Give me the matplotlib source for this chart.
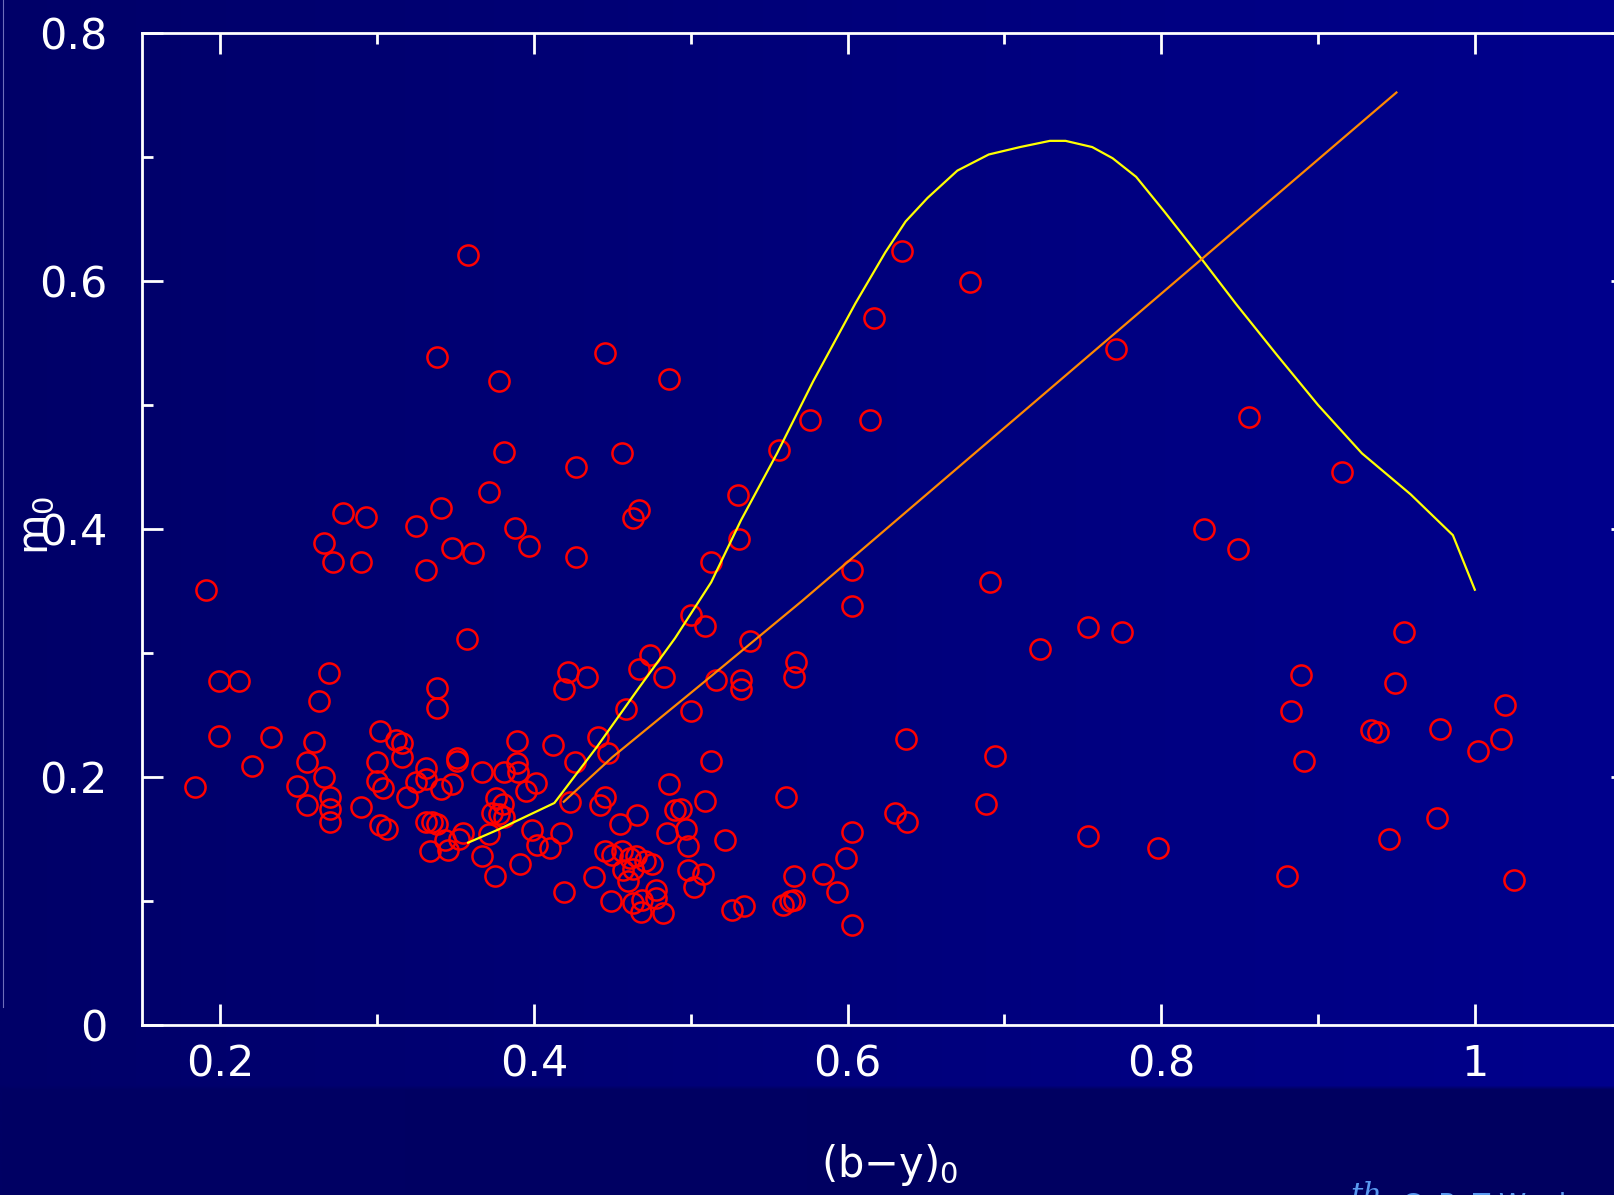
import numpy as np
import matplotlib
matplotlib.use('Agg')
import matplotlib.pyplot as plt
from matplotlib.ticker import MultipleLocator, FixedLocator

# Stars: (b-y)0 vs m0
by0 = [0.184, 0.191, 0.199, 0.199, 0.212, 0.220, 0.232, 0.249, 0.255, 0.255,
       0.260, 0.263, 0.266, 0.266, 0.269, 0.270, 0.270, 0.270, 0.272, 0.278,
       0.290, 0.290, 0.293, 0.300, 0.300, 0.302, 0.302, 0.304, 0.306, 0.312,
       0.316, 0.316, 0.319, 0.325, 0.325, 0.331, 0.331, 0.331, 0.331, 0.334,
       0.335, 0.338, 0.338, 0.338, 0.338, 0.341, 0.341, 0.343, 0.345, 0.348,
       0.348, 0.351, 0.351, 0.352, 0.355, 0.357, 0.358, 0.361, 0.367, 0.367,
       0.371, 0.371, 0.373, 0.375, 0.376, 0.378, 0.378, 0.380, 0.381, 0.381,
       0.381, 0.388, 0.389, 0.389, 0.390, 0.391, 0.397, 0.395, 0.399, 0.401,
       0.402, 0.410, 0.412, 0.417, 0.419, 0.419, 0.422, 0.423, 0.426, 0.427,
       0.427, 0.434, 0.438, 0.441, 0.442, 0.445, 0.445, 0.445, 0.447, 0.449,
       0.450, 0.456, 0.455, 0.456, 0.457, 0.459, 0.460, 0.461, 0.463, 0.463,
       0.463, 0.465, 0.466, 0.467, 0.467, 0.468, 0.469, 0.471, 0.474, 0.475,
       0.478, 0.478, 0.482, 0.483, 0.485, 0.486, 0.486, 0.490, 0.494, 0.497,
       0.498, 0.498, 0.500, 0.500, 0.502, 0.508, 0.509, 0.509, 0.513, 0.513,
       0.516, 0.522, 0.526, 0.530, 0.531, 0.532, 0.532, 0.534, 0.538, 0.556,
       0.559, 0.561, 0.563, 0.566, 0.566, 0.567, 0.566, 0.576, 0.584, 0.593,
       0.599, 0.603, 0.603, 0.603, 0.603, 0.614, 0.617, 0.630, 0.635, 0.637,
       0.638, 0.678, 0.688, 0.691, 0.694, 0.723, 0.753, 0.753, 0.771, 0.775,
       0.798, 0.827, 0.849, 0.856, 0.880, 0.883, 0.889, 0.891, 0.915, 0.934,
       0.938, 0.945, 0.949, 0.955, 0.976, 0.978, 1.002, 1.017, 1.019, 1.025]
m0 = [0.192, 0.351, 0.277, 0.233, 0.277, 0.209, 0.232, 0.193, 0.212, 0.177,
      0.228, 0.261, 0.200, 0.389, 0.284, 0.184, 0.174, 0.164, 0.373, 0.413,
      0.176, 0.373, 0.410, 0.212, 0.197, 0.237, 0.161, 0.191, 0.158, 0.230,
      0.227, 0.216, 0.184, 0.402, 0.196, 0.367, 0.207, 0.198, 0.164, 0.140,
      0.164, 0.539, 0.272, 0.256, 0.162, 0.190, 0.417, 0.149, 0.141, 0.194,
      0.385, 0.215, 0.213, 0.150, 0.155, 0.311, 0.621, 0.381, 0.204, 0.136,
      0.430, 0.154, 0.171, 0.120, 0.183, 0.519, 0.170, 0.178, 0.204, 0.462,
      0.168, 0.401, 0.229, 0.211, 0.204, 0.130, 0.386, 0.189, 0.157, 0.195,
      0.145, 0.143, 0.226, 0.155, 0.271, 0.107, 0.285, 0.180, 0.212, 0.450,
      0.377, 0.281, 0.119, 0.232, 0.177, 0.542, 0.184, 0.140, 0.219, 0.100,
      0.137, 0.461, 0.162, 0.140, 0.125, 0.255, 0.116, 0.135, 0.098, 0.409,
      0.126, 0.136, 0.169, 0.415, 0.287, 0.091, 0.101, 0.132, 0.298, 0.130,
      0.109, 0.102, 0.090, 0.281, 0.155, 0.521, 0.194, 0.173, 0.174, 0.158,
      0.144, 0.125, 0.253, 0.331, 0.111, 0.122, 0.181, 0.322, 0.373, 0.213,
      0.278, 0.149, 0.093, 0.427, 0.392, 0.278, 0.271, 0.096, 0.310, 0.464,
      0.097, 0.184, 0.100, 0.120, 0.281, 0.293, 0.101, 0.488, 0.122, 0.107,
      0.135, 0.156, 0.367, 0.338, 0.081, 0.488, 0.570, 0.171, 0.624, 0.231,
      0.164, 0.599, 0.178, 0.357, 0.217, 0.303, 0.321, 0.152, 0.545, 0.317,
      0.143, 0.400, 0.384, 0.490, 0.120, 0.253, 0.282, 0.213, 0.446, 0.238,
      0.236, 0.150, 0.276, 0.317, 0.167, 0.239, 0.221, 0.231, 0.258, 0.117]

# yellow model curve
curve_x = [0.358, 0.378, 0.413, 0.440, 0.467, 0.490, 0.513, 0.532, 0.555, 0.578,
           0.605, 0.624, 0.637, 0.651, 0.670, 0.690, 0.710, 0.729, 0.739, 0.756,
           0.769, 0.784, 0.802, 0.825, 0.848, 0.874, 0.900, 0.928, 0.959, 0.986,
           1.000]
curve_y = [0.147, 0.158, 0.179, 0.224, 0.272, 0.312, 0.357, 0.407, 0.461, 0.519,
           0.582, 0.623, 0.648, 0.667, 0.689, 0.702, 0.708, 0.713, 0.713, 0.708,
           0.699, 0.684, 0.656, 0.619, 0.581, 0.540, 0.500, 0.461, 0.428, 0.395,
           0.351]

# orange line
line_x = [0.419, 0.450, 0.506, 0.571, 0.950]
line_y = [0.180, 0.216, 0.274, 0.342, 0.752]

xticks = [0.2, 0.4, 0.6, 0.8, 1.0]
xlabels = ['0.2', '0.4', '0.6', '0.8', '1']
yticks = [0, 0.2, 0.4, 0.6, 0.8]
ylabels = ['0', '0.2', '0.4', '0.6', '0.8']

fig = plt.figure(figsize=(16.15, 11.95), dpi=100)

# slide background: horizontal navy gradient + darker bottom band
bg = fig.add_axes([0, 0, 1, 1], zorder=-10)
W, H = 400, 300
grad = np.linspace(0, 1, W)
img = np.zeros((H, W, 3))
img[:, :, 2] = (104 + (140 - 104) * grad) / 255.0
band = int(H * 108 / 1195)
img[H - band:, :, 2] = (100 + (96 - 100) * grad) / 255.0
bg.imshow(img, aspect='auto', extent=[0, 1, 0, 1], interpolation='bilinear')
bg.set_xlim(0, 1)
bg.set_ylim(0, 1)
bg.axis('off')
bg.plot([0.002, 0.002], [1.0, 1 - 1007 / 1195], color='#8a8ad0', lw=0.8, alpha=0.8)

ax = fig.add_axes([0.0879, 0.1423, 0.9224, 0.8301])
ax.set_facecolor('none')

ax.plot(by0, m0, 'o', mfc='none', mec='#ff0000', ms=14.5, mew=1.8, zorder=3)
ax.plot(curve_x, curve_y, color='#ffff00', lw=1.6, zorder=4)
ax.plot(line_x, line_y, color='#ff8800', lw=1.6, zorder=4)

ax.set_xlim(0.15, 1.1)
ax.set_ylim(0, 0.8)

ax.xaxis.set_major_locator(FixedLocator(xticks))
ax.set_xticklabels(xlabels)
ax.yaxis.set_major_locator(FixedLocator(yticks))
ax.set_yticklabels(ylabels)
ax.xaxis.set_minor_locator(MultipleLocator(0.1))
ax.yaxis.set_minor_locator(MultipleLocator(0.1))

for s in ax.spines.values():
    s.set_color('white')
    s.set_linewidth(2)

ax.tick_params(which='both', direction='in', top=True, right=True,
               colors='white', width=2)
ax.tick_params(which='major', length=15)
ax.tick_params(which='minor', length=8)
ax.tick_params(axis='x', which='major', labelsize=31, pad=13, labelcolor='white')
ax.tick_params(axis='y', which='major', labelsize=31, pad=25, labelcolor='white')

# axis titles placed like the slide
fig.text(36 / 1615, 1 - 525 / 1195, 'm$_0$', rotation=90, color='white',
         fontsize=30, ha='center', va='center')
fig.text(890 / 1615, (1195 - 1177) / 1195, '(b\u2212y)$_0$', color='white',
         fontsize=30, ha='center', va='baseline')

# footer text cut off at the slide edge
fig.text(1350 / 1615, (1195 - 1181) / 1195, 'th', color='#5a9af0',
         fontsize=22, style='italic', family='DejaVu Serif', ha='left', va='top')
fig.text(1402 / 1615, (1195 - 1192) / 1195, 'CoRoT Week', color='#5a9af0',
         fontsize=20, ha='left', va='top')

fig.savefig('out.png', dpi=100)
